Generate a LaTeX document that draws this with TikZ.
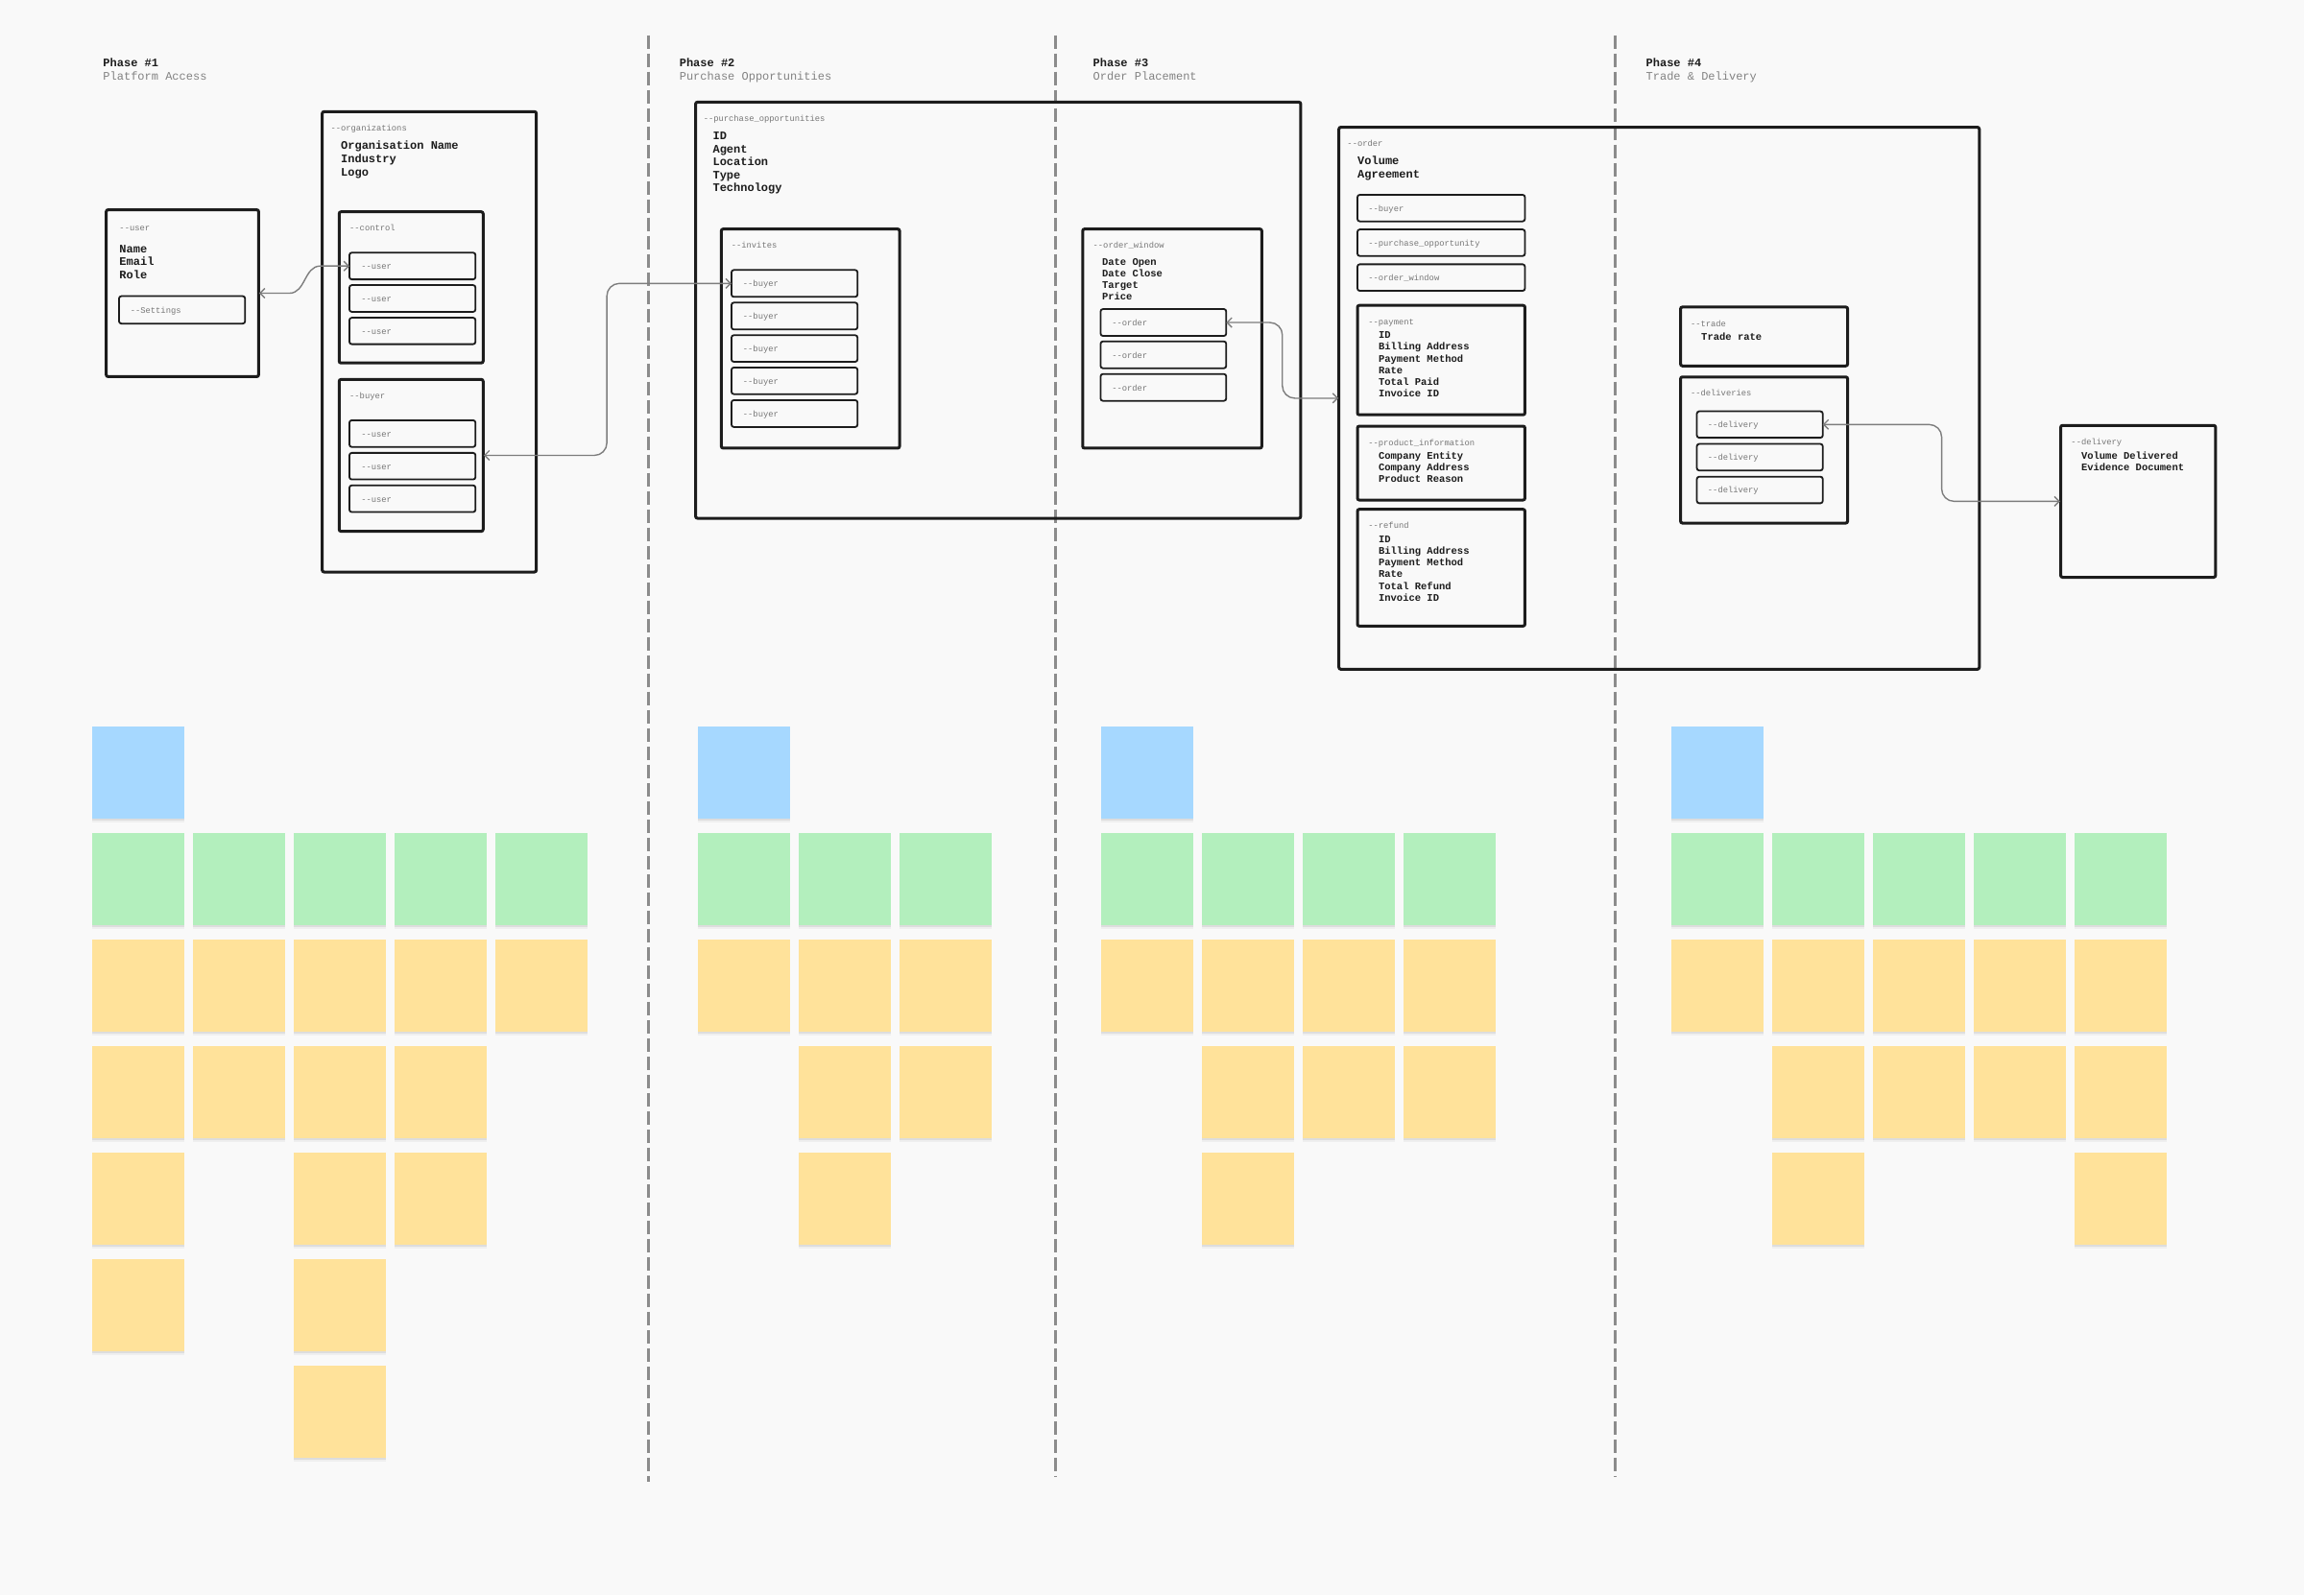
\documentclass[tikz,border=0pt]{standalone}
\usepackage{fontspec}
\newfontfamily\mono{Liberation Mono}
\usetikzlibrary{fit,arrows.meta,shadows}
\definecolor{bg}{RGB}{249,249,249}
\definecolor{ink}{RGB}{28,28,28}
\definecolor{lblgray}{RGB}{118,118,118}
\definecolor{subgray}{RGB}{130,130,130}
\definecolor{conngray}{RGB}{125,125,125}
\definecolor{dashgray}{RGB}{140,140,140}
\definecolor{sblue}{RGB}{166,216,255}
\definecolor{sgreen}{RGB}{179,239,189}
\definecolor{syellow}{RGB}{255,226,154}
\newcommand\stk[5]{\node[sticky, fill=#5] (#1) at ({#2+68.6*(#3-1)},{494.6+72.52*(#4-1)}) {};}
\begin{document}
\begin{tikzpicture}[x=1.5306pt,y=-1.5306pt,
  container/.style={draw=ink, line width=3pt, rounded corners=2pt, inner sep=0pt},
  item/.style={draw=ink, line width=1.8pt, rounded corners=2.5pt, inner sep=0pt},
  lbl/.style={font=\mono\fontsize{8.8}{10}\selectfont, text=lblgray, anchor=mid west, inner sep=0pt, yshift=-1.2pt},
  bigfld/.style={font=\mono\bfseries\fontsize{12}{14}\selectfont, text=ink, anchor=mid west, inner sep=0pt, yshift=-1.6pt},
  fld/.style={font=\mono\bfseries\fontsize{10.5}{12}\selectfont, text=ink, anchor=mid west, inner sep=0pt, yshift=-1.4pt},
  phasettl/.style={font=\mono\bfseries\fontsize{12}{14}\selectfont, text=ink, anchor=mid west, inner sep=0pt, yshift=-2.2pt},
  phasesub/.style={font=\mono\fontsize{12}{14}\selectfont, text=subgray, anchor=mid west, inner sep=0pt, yshift=-2.2pt},
  conn/.style={draw=conngray, line width=1.4pt, rounded corners=13pt,
    {Straight Barb[length=5pt,width=10pt]}-{Straight Barb[length=5pt,width=10pt]},
    shorten <=-1pt, shorten >=-1pt},
  divider/.style={draw=dashgray, line width=2.6pt, dash pattern=on 14pt off 5pt},
  sticky/.style={inner sep=0pt, minimum width=96pt, minimum height=96pt, anchor=north west,
    drop shadow={shadow xshift=0pt, shadow yshift=-2pt, opacity=0.07, fill=black},
    drop shadow={shadow xshift=0pt, shadow yshift=-4pt, opacity=0.04, fill=black}},
]
\fill[bg] (0,0) rectangle (1568,1086);
\useasboundingbox (0,0) rectangle (1568,1086);

% dividers
\coordinate (d1t) at (441.3,24); \coordinate (d1b) at (441.3,1009);
\coordinate (d2t) at (718.3,24); \coordinate (d2b) at (718.3,1005.5);
\coordinate (d3t) at (1099.3,24); \coordinate (d3b) at (1099.3,1005.5);
\draw[divider] (d1t) -- (d1b);
\draw[divider] (d2t) -- (d2b);
\draw[divider] (d3t) -- (d3b);

% phase headings
\node[phasettl] (ph1) at (70.1,42.8) {Phase \#1};
\node[phasesub] (ph1s) at (70.1,52) {Platform Access};
\node[phasettl] (ph2) at (462.3,42.8) {Phase \#2};
\node[phasesub] (ph2s) at (462.3,52) {Purchase Opportunities};
\node[phasettl] (ph3) at (743.8,42.8) {Phase \#3};
\node[phasesub] (ph3s) at (743.8,52) {Order Placement};
\node[phasettl] (ph4) at (1120.1,42.8) {Phase \#4};
\node[phasesub] (ph4s) at (1120.1,52) {Trade \& Delivery};

% ---------- user
\node[container, fit={(72.3,142.8) (176,256.4)}] (user) {};
\node[lbl] (user-l) at (81.2,154.7) {-{}-user};
\foreach \t [count=\i] in {Name,Email,Role}
  {\node[bigfld] (user-f\i) at (81.2,{169.6+8.9*(\i-1)}) {\t};}
\node[item, fit={(81,201.6) (166.8,220.3)}] (settings) {};
\node[lbl] (settings-l) at (88.6,211.1) {-{}-Settings};

% ---------- organizations
\node[container, fit={(219.3,76) (365,389.4)}] (org) {};
\node[lbl] (org-l) at (225,87.3) {-{}-organizations};
\foreach \t [count=\i] in {Organisation Name,Industry,Logo}
  {\node[bigfld] (org-f\i) at (231.9,{99.4+8.87*(\i-1)}) {\t};}
\node[container, fit={(230.8,144.2) (328.8,247.1)}] (control) {};
\node[lbl] (control-l) at (237.8,154.9) {-{}-control};
\foreach \a/\b [count=\i] in {172/190.2,194.1/212.3,216.3/234.3}{
  \node[item, fit={(237.8,\a) (323.6,\b)}] (cu\i) {};
  \node[lbl] (cu\i-l) at (245.7,{(\a+\b)/2}) {-{}-user};
}
\node[container, fit={(230.8,258.3) (328.8,361.7)}] (buyerc) {};
\node[lbl] (buyerc-l) at (237.8,269.3) {-{}-buyer};
\foreach \a/\b [count=\i] in {286.1/304.3,308.3/326.4,330.4/348.6}{
  \node[item, fit={(237.8,\a) (323.6,\b)}] (bu\i) {};
  \node[lbl] (bu\i-l) at (245.7,{(\a+\b)/2}) {-{}-user};
}

% ---------- purchase opportunities
\node[container, fit={(473.4,69.5) (885.2,352.8)}] (po) {};
\node[lbl] (po-l) at (478.6,80.4) {-{}-purchase\_opportunities};
\foreach \t [count=\i] in {ID,Agent,Location,Type,Technology}
  {\node[bigfld] (po-f\i) at (485,{92.6+8.88*(\i-1)}) {\t};}
\node[container, fit={(490.9,155.9) (612.2,305.1)}] (inv) {};
\node[lbl] (inv-l) at (497.6,166.8) {-{}-invites};
\foreach \a/\b [count=\i] in {183.8/202.1,206/224.3,228.2/246.3,250.2/268.3,272.4/290.7}{
  \node[item, fit={(497.8,\a) (583.6,\b)}] (ib\i) {};
  \node[lbl] (ib\i-l) at (505.5,{(\a+\b)/2}) {-{}-buyer};
}
\node[container, fit={(736.8,155.9) (858.7,305.1)}] (ow) {};
\node[lbl] (ow-l) at (743.8,166.8) {-{}-order\_window};
\foreach \t [count=\i] in {Date Open,Date Close,Target,Price}
  {\node[fld] (ow-f\i) at (749.9,{178.6+7.83*(\i-1)}) {\t};}
\foreach \a/\b [count=\i] in {210.4/228.7,232.4/250.7,254.6/272.9}{
  \node[item, fit={(749,\a) (834.5,\b)}] (o\i) {};
  \node[lbl] (o\i-l) at (756.6,{(\a+\b)/2}) {-{}-order};
}

% ---------- order
\node[container, fit={(911.2,86.6) (1347,455.6)}] (order) {};
\node[lbl] (order-l) at (916.8,97.6) {-{}-order};
\foreach \t [count=\i] in {Volume,Agreement}
  {\node[bigfld] (order-f\i) at (923.8,{109.8+8.7*(\i-1)}) {\t};}
\node[item, fit={(923.8,132.6) (1037.8,150.7)}] (ob) {};
\node[lbl] (ob-l) at (931.1,141.65) {-{}-buyer};
\node[item, fit={(923.8,156.2) (1037.8,174.3)}] (opo) {};
\node[lbl] (opo-l) at (931.1,165.25) {-{}-purchase\_opportunity};
\node[item, fit={(923.8,179.9) (1037.8,198)}] (oow) {};
\node[lbl] (oow-l) at (931.1,188.95) {-{}-order\_window};

\node[container, fit={(923.8,207.9) (1037.8,282.4)}] (pay) {};
\node[lbl] (pay-l) at (931.1,218.9) {-{}-payment};
\foreach \t [count=\i] in {ID,Billing Address,Payment Method,Rate,Total Paid,Invoice ID}
  {\node[fld] (pay-f\i) at (938.1,{228.2+7.94*(\i-1)}) {\t};}

\node[container, fit={(923.8,290.1) (1037.8,340.4)}] (prod) {};
\node[lbl] (prod-l) at (931.1,301.1) {-{}-product\_information};
\foreach \t [count=\i] in {Company Entity,Company Address,Product Reason}
  {\node[fld] (prod-f\i) at (938.1,{310.5+7.9*(\i-1)}) {\t};}

\node[container, fit={(923.8,346.7) (1037.8,426.2)}] (ref) {};
\node[lbl] (ref-l) at (931.1,357.5) {-{}-refund};
\foreach \t [count=\i] in {ID,Billing Address,Payment Method,Rate,Total Refund,Invoice ID}
  {\node[fld] (ref-f\i) at (938.1,{367.1+7.94*(\i-1)}) {\t};}

\node[container, fit={(1143.7,209) (1257.4,249.1)}] (trade) {};
\node[lbl] (trade-l) at (1150.4,220) {-{}-trade};
\node[fld] (trade-f1) at (1157.7,229.6) {Trade rate};

\node[container, fit={(1143.7,256.6) (1257.4,356.1)}] (dels) {};
\node[lbl] (dels-l) at (1150.4,267.5) {-{}-deliveries};
\foreach \a/\b [count=\i] in {280/298,302.2/320.3,324.5/342.6}{
  \node[item, fit={(1154.8,\a) (1240.5,\b)}] (dl\i) {};
  \node[lbl] (dl\i-l) at (1162.1,{(\a+\b)/2}) {-{}-delivery};
}

% ---------- delivery
\node[container, fit={(1402.4,289.6) (1507.8,393)}] (delivery) {};
\node[lbl] (delivery-l) at (1409.4,300.7) {-{}-delivery};
\foreach \t [count=\i] in {Volume Delivered,Evidence Document}
  {\node[fld] (delivery-f\i) at (1416.3,{310.1+7.9*(\i-1)}) {\t};}

% ---------- connectors
\coordinate (k1) at (197,199.6);
\coordinate (k2) at (218,181.1);
\draw[conn, rounded corners=0pt] (user.east) -- (k1) to[out=0,in=180] (k2) -- (cu1.west);
\coordinate (v2) at (413,250);
\draw[conn] (buyerc.east) -| (v2) |- (ib1.west);
\coordinate (v3) at (872.7,245);
\draw[conn] (o1.east) -| (v3) |- (order.west);
\coordinate (v4) at (1321.4,315);
\draw[conn] (dl1.east) -| (v4) |- (delivery.west);

% ---------- sticky notes
\foreach \c/\r/\k [count=\i] in {1/1/sblue,1/2/sgreen,2/2/sgreen,3/2/sgreen,4/2/sgreen,5/2/sgreen,
  1/3/syellow,2/3/syellow,3/3/syellow,4/3/syellow,5/3/syellow,
  1/4/syellow,2/4/syellow,3/4/syellow,4/4/syellow,
  1/5/syellow,3/5/syellow,4/5/syellow,1/6/syellow,3/6/syellow,3/7/syellow}
  {\stk{sa\i}{62.7}{\c}{\r}{\k}}
\foreach \c/\r/\k [count=\i] in {1/1/sblue,1/2/sgreen,2/2/sgreen,3/2/sgreen,
  1/3/syellow,2/3/syellow,3/3/syellow,2/4/syellow,3/4/syellow,2/5/syellow}
  {\stk{sb\i}{474.8}{\c}{\r}{\k}}
\foreach \c/\r/\k [count=\i] in {1/1/sblue,1/2/sgreen,2/2/sgreen,3/2/sgreen,4/2/sgreen,
  1/3/syellow,2/3/syellow,3/3/syellow,4/3/syellow,2/4/syellow,3/4/syellow,4/4/syellow,2/5/syellow}
  {\stk{sc\i}{749.4}{\c}{\r}{\k}}
\foreach \c/\r/\k [count=\i] in {1/1/sblue,1/2/sgreen,2/2/sgreen,3/2/sgreen,4/2/sgreen,5/2/sgreen,
  1/3/syellow,2/3/syellow,3/3/syellow,4/3/syellow,5/3/syellow,
  2/4/syellow,3/4/syellow,4/4/syellow,5/4/syellow,2/5/syellow,5/5/syellow}
  {\stk{sd\i}{1137.3}{\c}{\r}{\k}}
\end{tikzpicture}
\end{document}
